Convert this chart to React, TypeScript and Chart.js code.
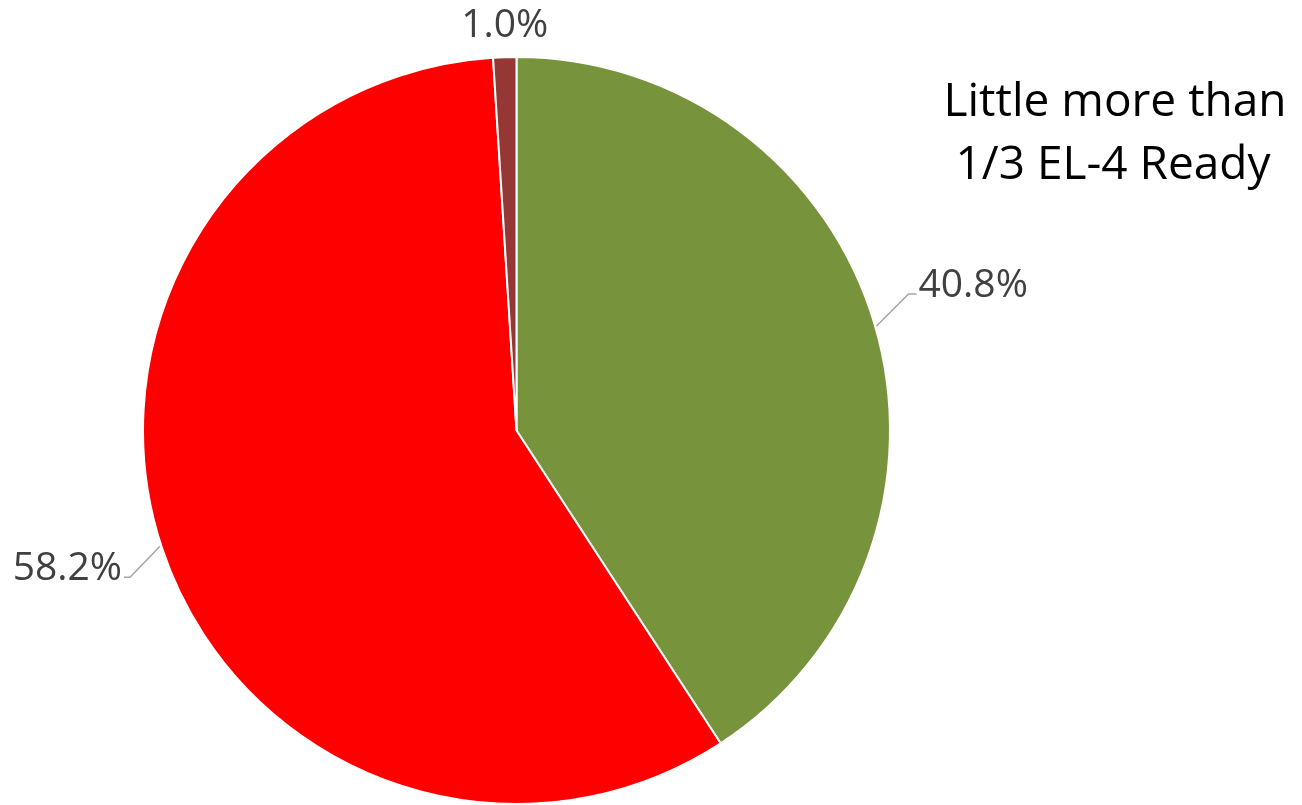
import React, { useEffect, useRef } from "react";
import { Chart, registerables } from "chart.js";

Chart.register(...registerables);

const categories = ["EL-4 Ready", "Not Ready", "Other"];
const values = [40.8, 58.2, 1.0];
const colors = ["#77933C", "#FF0000", "#953735"];
const valueLabels = ["40.8%", "58.2%", "1.0%"];
const titleLines = ["Little more than", "1/3 EL-4 Ready"];

const FONT = "'Open Sans', 'DejaVu Sans', sans-serif";

const labelPlugin = {
  id: "pieLabels",
  afterDatasetsDraw(chart: any) {
    const ctx = chart.ctx;
    const meta = chart.getDatasetMeta(0);
    ctx.save();
    ctx.font = `39px ${FONT}`;
    ctx.fillStyle = "#404040";
    ctx.textBaseline = "middle";
    meta.data.forEach((arc: any, i: number) => {
      const { x, y, startAngle, endAngle, outerRadius } = arc.getProps(
        ["x", "y", "startAngle", "endAngle", "outerRadius"],
        true
      );
      const mid = (startAngle + endAngle) / 2;
      const cos = Math.cos(mid);
      const sin = Math.sin(mid);
      const ex = x + cos * outerRadius;
      const ey = y + sin * outerRadius;
      const text = valueLabels[i];
      if (i === 2) {
        ctx.textAlign = "center";
        ctx.fillText(text, ex + 0, ey - 31);
        return;
      }
      const right = cos >= 0;
      const kx = ex + (right ? 34 : -32);
      const ky = ey + (right ? -30 : 29);
      const hx = kx + (right ? 8 : -6);
      ctx.strokeStyle = "#A6A6A6";
      ctx.lineWidth = 1.5;
      ctx.beginPath();
      ctx.moveTo(ex + (right ? 2 : -2), ey + (right ? 2 : -2));
      ctx.lineTo(kx, ky);
      ctx.lineTo(hx, ky);
      ctx.stroke();
      ctx.textAlign = right ? "left" : "right";
      ctx.fillText(text, hx + (right ? 2 : -2), ky - 8);
    });
    ctx.font = `46px ${FONT}`;
    ctx.fillStyle = "#000000";
    ctx.textAlign = "center";
    ctx.fillText(titleLines[0], 1115, 103);
    ctx.fillText(titleLines[1], 1113, 166);
    ctx.restore();
  },
};

export default function App() {
  const ref = useRef<HTMLCanvasElement>(null);
  useEffect(() => {
    document.body.style.margin = "0";
    const chart = new Chart(ref.current!, {
      type: "pie",
      data: {
        labels: categories,
        datasets: [
          {
            data: values,
            backgroundColor: colors,
            borderColor: "#FFFFFF",
            borderWidth: 2,
          },
        ],
      },
      options: {
        responsive: false,
        animation: false,
        layout: { padding: { left: 140, right: 409, top: 56, bottom: -4 } },
        plugins: {
          legend: { display: false },
          tooltip: { enabled: false },
          title: { display: false },
        },
      },
      plugins: [labelPlugin],
    });
    return () => chart.destroy();
  }, []);
  return (
    <div style={{ position: "absolute", left: 0, top: 0, width: 1302, height: 805, background: "#fff" }}>
      <canvas ref={ref} width={1302} height={805} />
    </div>
  );
}
